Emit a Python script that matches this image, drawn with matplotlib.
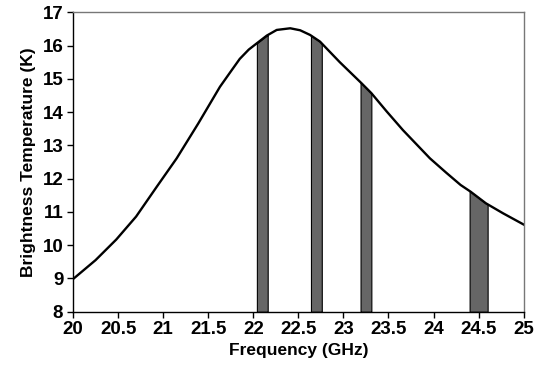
import numpy as np
import matplotlib
matplotlib.use("Agg")
import matplotlib.pyplot as plt

# brightness temperature curve
freq = [20.0, 20.25, 20.48, 20.70, 20.93, 21.15, 21.39, 21.63, 21.75, 21.85,
        21.95, 22.04, 22.15, 22.26, 22.41, 22.52, 22.63, 22.74, 22.96, 23.2,
        23.31, 23.48, 23.66, 23.96, 24.14, 24.30, 24.41, 24.58, 24.77, 25.0]
tb = [8.98, 9.55, 10.17, 10.86, 11.76, 12.61, 13.66, 14.76, 15.22, 15.6,
      15.88, 16.07, 16.3, 16.47, 16.52, 16.46, 16.32, 16.12, 15.5, 14.87,
      14.57, 14.02, 13.46, 12.61, 12.18, 11.81, 11.61, 11.26, 10.96, 10.62]

# channel bands (GHz)
band_lo = [22.04, 22.64, 23.19, 24.40]
band_hi = [22.16, 22.76, 23.31, 24.60]

plt.rcParams['font.family'] = ['Liberation Sans', 'DejaVu Sans']
plt.rcParams['font.weight'] = 'bold'

fig = plt.figure(figsize=(5.38, 3.73), dpi=100)
ax = fig.add_axes([0.1357, 0.1643, 0.8377, 0.8027])

for lo, hi in zip(band_lo, band_hi):
    xs = np.linspace(lo, hi, 20)
    ys = np.interp(xs, freq, tb)
    ax.fill_between(xs, 8, ys, facecolor='#666666', edgecolor='black', linewidth=0.8)

ax.plot(freq, tb, color='black', linewidth=1.7, solid_joinstyle='round')

ax.set_xlim(20, 25)
ax.set_ylim(8, 17)
ax.set_xticks(np.arange(20, 25.01, 0.5))
ax.set_xticklabels(['20', '20.5', '21', '21.5', '22', '22.5', '23', '23.5', '24', '24.5', '25'])
ax.set_yticks(range(8, 18))
ax.tick_params(direction='out', length=4, width=1, labelsize=13.5, pad=3)
for lab in ax.get_xticklabels() + ax.get_yticklabels():
    lab.set_fontweight('bold')
ax.set_xlabel('Frequency (GHz)', fontsize=12.5, fontweight='bold', labelpad=3)
ax.set_ylabel('Brightness Temperature (K)', fontsize=12.5, fontweight='bold', labelpad=5)

for s in ['top', 'right']:
    ax.spines[s].set_color('#777777')
    ax.spines[s].set_linewidth(1)
for s in ['left', 'bottom']:
    ax.spines[s].set_linewidth(1)

fig.savefig('out.png', dpi=100)
